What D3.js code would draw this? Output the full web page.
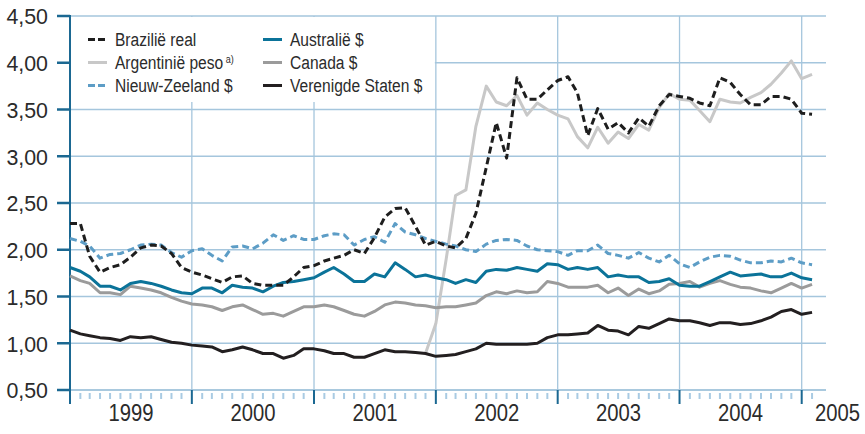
<!DOCTYPE html>
<html><head><meta charset="utf-8">
<script src="https://cdn.jsdelivr.net/npm/d3@7"></script>
<style>
body{margin:0;background:#fff}
text{font-family:"Liberation Sans",Arial,sans-serif;fill:#2b2b2b}
</style>
</head><body>
<svg id="c" width="865" height="434"></svg>
<script>
// ---- data (currency units per euro, monthly Jan 1999 – Feb 2005) ----
const months = d3.timeMonth.range(new Date(1999,0,1), new Date(2005,2,1)); // 74 months
const yearLabels = ["1999","2000","2001","2002","2003","2004","2005"];
const yTicks = [0.5,1.0,1.5,2.0,2.5,3.0,3.5,4.0,4.5];

const brazil = [2.28,2.28,1.93,1.76,1.81,1.84,1.92,2.02,2.05,2.04,1.96,1.81,
  1.76,1.73,1.69,1.65,1.71,1.72,1.64,1.62,1.62,1.62,1.71,1.81,
  1.83,1.88,1.91,1.94,2.00,1.96,2.13,2.35,2.44,2.45,2.25,2.05,
  2.09,2.04,2.02,2.12,2.39,2.88,3.36,2.98,3.84,3.61,3.61,3.71,
  3.81,3.85,3.68,3.22,3.51,3.29,3.36,3.25,3.41,3.32,3.54,3.66,
  3.64,3.62,3.57,3.54,3.84,3.79,3.66,3.55,3.55,3.64,3.64,3.61,
  3.46,3.45];
const argentina = [null,null,null,null,null,null,null,null,null,null,null,null,
  null,null,null,null,null,null,null,null,null,null,null,null,
  null,null,null,null,null,null,null,null,null,null,null,0.89,
  1.21,1.90,2.58,2.64,3.32,3.75,3.58,3.54,3.65,3.44,3.57,3.50,
  3.44,3.40,3.21,3.09,3.31,3.14,3.26,3.19,3.34,3.28,3.52,3.67,
  3.61,3.60,3.49,3.37,3.61,3.58,3.57,3.63,3.68,3.77,3.89,4.02,
  3.83,3.875];
const newZealand = [2.12,2.09,2.04,1.91,1.95,1.96,2.00,2.05,2.06,2.05,1.97,1.92,
  1.99,2.01,1.94,1.88,2.03,2.04,2.01,2.07,2.16,2.10,2.15,2.11,
  2.11,2.15,2.17,2.16,2.05,2.11,2.14,2.08,2.28,2.19,2.16,2.12,
  2.09,2.06,2.04,2.00,1.98,2.06,2.10,2.11,2.10,2.04,2.00,1.99,
  1.98,1.94,1.99,1.99,2.05,1.96,1.94,1.91,1.97,1.91,1.87,1.94,
  1.85,1.81,1.87,1.92,1.94,1.93,1.89,1.86,1.86,1.88,1.87,1.91,
  1.86,1.84];
const australia = [1.81,1.77,1.71,1.61,1.61,1.57,1.64,1.66,1.64,1.61,1.57,1.54,
  1.53,1.59,1.59,1.54,1.62,1.60,1.59,1.55,1.61,1.65,1.66,1.68,
  1.70,1.76,1.81,1.74,1.66,1.66,1.74,1.71,1.86,1.79,1.71,1.73,
  1.70,1.68,1.64,1.68,1.65,1.77,1.79,1.78,1.81,1.79,1.77,1.85,
  1.84,1.79,1.81,1.79,1.81,1.71,1.73,1.71,1.71,1.65,1.66,1.69,
  1.62,1.61,1.61,1.66,1.71,1.76,1.72,1.73,1.74,1.71,1.71,1.75,
  1.70,1.68];
const canada = [1.72,1.67,1.64,1.54,1.54,1.52,1.61,1.59,1.57,1.54,1.49,1.45,
  1.42,1.41,1.39,1.35,1.39,1.41,1.36,1.31,1.32,1.29,1.34,1.39,
  1.39,1.41,1.39,1.35,1.31,1.29,1.34,1.41,1.44,1.43,1.41,1.40,
  1.38,1.39,1.39,1.41,1.43,1.51,1.55,1.53,1.56,1.54,1.55,1.66,
  1.64,1.60,1.60,1.60,1.62,1.54,1.59,1.51,1.58,1.53,1.56,1.63,
  1.64,1.66,1.60,1.64,1.67,1.63,1.60,1.59,1.56,1.54,1.59,1.64,
  1.59,1.63];
const usa = [1.14,1.10,1.08,1.06,1.05,1.03,1.07,1.06,1.07,1.04,1.01,1.00,
  0.98,0.97,0.96,0.91,0.93,0.96,0.93,0.89,0.89,0.84,0.87,0.94,
  0.94,0.92,0.89,0.89,0.85,0.85,0.89,0.93,0.91,0.91,0.90,0.89,
  0.86,0.87,0.88,0.91,0.94,1.00,0.99,0.99,0.99,0.99,1.00,1.06,
  1.09,1.09,1.10,1.11,1.19,1.14,1.13,1.09,1.18,1.16,1.21,1.26,
  1.24,1.24,1.22,1.19,1.22,1.22,1.20,1.21,1.24,1.28,1.34,1.36,
  1.31,1.33];

const seriesNames = ["Brazilië real","Argentinië peso","Nieuw-Zeeland $","Australië $","Canada $","Verenigde Staten $"];

(function(){
// ---- styling / layout ----
const series = [
  {name:seriesNames[1], values:argentina,  color:"#c8c8c8", dash:null},
  {name:seriesNames[4], values:canada,     color:"#9b9b9b", dash:null},
  {name:seriesNames[2], values:newZealand, color:"#5d9dc6", dash:"7,4"},
  {name:seriesNames[3], values:australia,  color:"#0b7399", dash:null},
  {name:seriesNames[5], values:usa,        color:"#231f20", dash:null},
  {name:seriesNames[0], values:brazil,     color:"#1e1e1e", dash:"7,4"}
];

const svg = d3.select("#c");
const pLeft = 70, pTop = 16, pBottom = 390, pRight = 826;
const x = d3.scaleTime().domain([new Date(1999,0,1), new Date(2005,0,1)]).range([pLeft, 801.7]);
const y = d3.scaleLinear().domain([0.5,4.5]).range([pBottom, pTop]);
const gridColor = "#a5c6dd", axisColor = "#1b6892";
const nl = d3.formatLocale({decimal:",", thousands:".", grouping:[3], currency:["",""]});
const fmt = nl.format(".2f");

// condensed text helper: horizontally squeezed glyphs
function ctext(sel, px, py, sx, size, anchor){
  return sel.attr("x", px/sx).attr("y", py).attr("transform", `scale(${sx},1)`)
    .attr("font-size", size).attr("text-anchor", anchor||"start");
}

// horizontal grid
svg.append("g").selectAll("line").data(yTicks).join("line")
  .attr("x1", pLeft).attr("x2", pRight)
  .attr("y1", d=>y(d)).attr("y2", d=>y(d))
  .attr("stroke", d=> d===0.5 ? "#8db7d3" : gridColor).attr("stroke-width", d=>d===0.5?1.6:1.3);

// vertical year grid
const yearBounds = d3.timeYear.range(new Date(2000,0,1), new Date(2005,1,1));
svg.append("g").selectAll("line").data(yearBounds).join("line")
  .attr("x1", d=>x(d)).attr("x2", d=>x(d))
  .attr("y1", pTop).attr("y2", pBottom)
  .attr("stroke", gridColor).attr("stroke-width", 1.3);

// legend background
svg.append("rect").attr("x", pLeft+1).attr("y", pTop+1).attr("width", x(new Date(2002,0,1))-pLeft-2).attr("height", 85).attr("fill","#fff");

// month minor ticks
svg.append("g").selectAll("line").data(months.filter(d=>d.getMonth()!==0)).join("line")
  .attr("x1", d=>x(d)).attr("x2", d=>x(d))
  .attr("y1", pBottom+3).attr("y2", pBottom+9)
  .attr("stroke", "#a9cbe3").attr("stroke-width", 2);

// major year ticks
svg.append("g").selectAll("line").data(d3.timeYear.range(new Date(1999,0,1), new Date(2005,1,1))).join("line")
  .attr("x1", d=>x(d)).attr("x2", d=>x(d))
  .attr("y1", pBottom).attr("y2", pBottom+14)
  .attr("stroke", axisColor).attr("stroke-width", 2);

// y axis line and ticks
svg.append("line").attr("x1", pLeft).attr("x2", pLeft).attr("y1", pTop-1).attr("y2", pBottom+14)
  .attr("stroke", axisColor).attr("stroke-width", 2);
svg.append("g").selectAll("line").data(yTicks).join("line")
  .attr("x1", pLeft-13).attr("x2", pLeft).attr("y1", d=>y(d)).attr("y2", d=>y(d))
  .attr("stroke", axisColor).attr("stroke-width", 2.5);
svg.append("g").selectAll("text").data(yTicks).join("text")
  .each(function(d){ ctext(d3.select(this), 48, y(d)+8.3, 0.93, 23, "end"); })
  .text(d=>fmt(d));

// year labels
const yearPos = yearLabels.map((t,i)=> i<6 ? (x(new Date(1999+i,0,1))+x(new Date(2000+i,0,1)))/2 : 837.5);
svg.append("g").selectAll("text").data(yearLabels).join("text")
  .each(function(d,i){ ctext(d3.select(this), yearPos[i], 421, 0.88, 23, "middle"); })
  .text(d=>d);

// lines
const line = d3.line().defined(d=>d[1]!=null).x(d=>x(d[0])).y(d=>y(d[1]));
svg.append("g").selectAll("path").data(series).join("path")
  .attr("d", s=>line(months.map((m,i)=>[m, s.values[i]])))
  .attr("fill","none").attr("stroke", s=>s.color).attr("stroke-width", 3)
  .attr("stroke-dasharray", s=>s.dash).attr("stroke-linejoin","round");

// legend
const legendItems = [
  {name:seriesNames[0], s:series[5], col:0, row:0},
  {name:seriesNames[1], s:series[0], col:0, row:1, sup:"a)"},
  {name:seriesNames[2], s:series[2], col:0, row:2},
  {name:seriesNames[3], s:series[3], col:1, row:0},
  {name:seriesNames[4], s:series[1], col:1, row:1},
  {name:seriesNames[5], s:series[4], col:1, row:2}
];
const colX = [88, 263], rowY = [39.5, 62.5, 85.5];
const lg = svg.append("g");
legendItems.forEach(it=>{
  const lx = colX[it.col], ly = rowY[it.row];
  lg.append("line").attr("x1", lx).attr("x2", lx+19).attr("y1", ly).attr("y2", ly)
    .attr("stroke", it.s.color).attr("stroke-width", 3)
    .attr("stroke-dasharray", it.s.dash ? "7,3" : null);
  const t = ctext(lg.append("text"), lx+27, ly+6.8, 0.82, 19).text(it.name);
  if (it.sup) t.append("tspan").attr("dx", 3).attr("dy", -6).attr("font-size", 11).text(it.sup);
});
})();
</script>
</body></html>
